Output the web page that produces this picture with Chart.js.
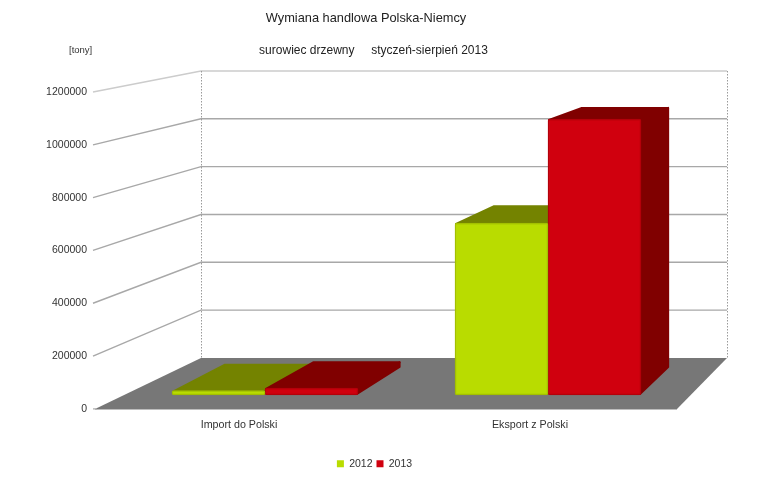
<!DOCTYPE html>
<html>
<head>
<meta charset="utf-8">
<title>Wymiana handlowa Polska-Niemcy</title>
<script src="https://cdn.jsdelivr.net/npm/chart.js@4"></script>
<style>
  html,body{margin:0;padding:0;background:#fff}
  canvas{display:block}
</style>
</head>
<body>
<canvas id="c" width="760" height="477"></canvas>
<script>
// dane
const categories = ['Import do Polski', 'Eksport z Polski'];
const seriesNames = ['2012', '2013'];
const values2012 = [17000, 669000];
const values2013 = [27000, 1074000];
const tickStep = 200000;
const axisMax = 1200000;

// kolory
const frontColors = ['#b9dc00', '#d0000e'];
const rimColors = ['#a3c000', '#b4000a'];
const sideColors = ['#748300', '#800000'];

// geometria "3D": przednia krawedz podlogi i tylna sciana
const floor = [[95,409],[201,358],[727,358],[677,409]];
const wallL = 201, wallR = 727, wallBase = 358, wallTop = 71, frontL = 93;
// tyl slupka wzgledem przodu (perspektywa)
const backX = x => 60.8 + 0.949*x;
const backY = y => 368 - 0.9457*(395 - y);

function poly(ctx, pts, fill, stroke){
  ctx.beginPath();
  pts.forEach((p,i)=> i ? ctx.lineTo(p[0],p[1]) : ctx.moveTo(p[0],p[1]));
  ctx.closePath();
  ctx.fillStyle = fill; ctx.fill();
  if (stroke){ ctx.strokeStyle = stroke; ctx.lineWidth = 2; ctx.lineJoin = 'round'; ctx.stroke(); }
}

const scene3d = {
  id:'scene3d',
  afterLayout(chart){
    // tytuly i legenda nie sa na srodku plotna
    const center = (box,cx)=>{ const d = cx-(box.left+box.right)/2; box.left+=d; box.right+=d; };
    center(chart.titleBlock, 366);
    center(chart.boxes.find(b=>b.options && b.options.text===chart.options.plugins.subtitle.text), 373.5);
    center(chart.legend, 374.5);
    chart.legend.top += 2; chart.legend.bottom += 2;
  },
  beforeDatasetsDraw(chart){
    const ctx = chart.ctx, yF = chart.scales.y, yW = chart.scales.yWall;
    ctx.save();
    // podloga
    poly(ctx, floor, '#777777');
    ctx.strokeStyle = '#bdbdbd'; ctx.lineWidth = 1;
    ctx.beginPath(); ctx.moveTo(95,409.5); ctx.lineTo(677,409.5); ctx.stroke();
    // siatka
    for (let v = tickStep; v <= axisMax; v += tickStep){
      const yf = yF.getPixelForValue(v), yw = yW.getPixelForValue(v);
      ctx.strokeStyle = v === axisMax ? '#cccccc' : '#a8a8a8';
      ctx.lineWidth = 1.4;
      ctx.beginPath(); ctx.moveTo(frontL,yf); ctx.lineTo(wallL,yw); ctx.lineTo(wallR,yw); ctx.stroke();
    }
    ctx.strokeStyle = '#a8a8a8'; ctx.lineWidth = 1.2;
    ctx.beginPath(); ctx.moveTo(frontL,yF.getPixelForValue(0)); ctx.lineTo(97,yF.getPixelForValue(0)); ctx.stroke();
    // sciany boczne, kropkowane
    ctx.strokeStyle = '#9a9a9a'; ctx.lineWidth = 1; ctx.setLineDash([1.5,1.5]);
    [wallL,wallR].forEach(x=>{ ctx.beginPath(); ctx.moveTo(x+.5,wallTop); ctx.lineTo(x+.5,wallBase); ctx.stroke(); });
    ctx.setLineDash([]);
    // gora i bok slupkow
    chart.data.datasets.forEach((ds,d)=>{
      chart.getDatasetMeta(d).data.forEach(bar=>{
        const p = bar.getProps(['x','y','base','width'], true);
        const l = p.x-p.width/2+1, r = p.x+p.width/2-1, t = p.y+1, b = p.base-1;
        poly(ctx, [[l,t],[backX(l),backY(t)],[backX(r),backY(t)],[r,t]], sideColors[d], sideColors[d]);
        poly(ctx, [[r,t],[backX(r),backY(t)],[backX(r),backY(b)],[r,b]], sideColors[d], sideColors[d]);
      });
    });
    ctx.restore();
  },
  afterDraw(chart){
    const ctx = chart.ctx;
    ctx.save();
    ctx.font = '9.5px "Liberation Sans"'; ctx.fillStyle = '#333';
    ctx.textAlign = 'left'; ctx.textBaseline = 'middle';
    ctx.fillText('[tony]', 69, 50);
    ctx.restore();
  }
};

Chart.defaults.font.family = '"Liberation Sans", Arial, sans-serif';
Chart.defaults.color = '#333';

new Chart(document.getElementById('c'), {
  type:'bar',
  plugins:[scene3d],
  data:{
    labels: categories,
    datasets: [values2012, values2013].map((vals,d)=>({
      label: seriesNames[d],
      data: vals.map((v,i)=>({x:i, y:v})),
      xAxisID:'xBars', yAxisID:'yBars',
      backgroundColor: frontColors[d],
      borderColor: rimColors[d],
      borderWidth: 1.5,
      borderRadius: 2,
      borderSkipped: false,
      barThickness: 93
    }))
  },
  options:{
    responsive:false, animation:false,
    layout:{padding:{left:0,right:83,top:0,bottom:0}},
    plugins:{
      tooltip:{enabled:false},
      title:{display:true, text:'Wymiana handlowa Polska-Niemcy', color:'#222',
        font:{size:12.8,weight:'normal',lineHeight:'16px'}, padding:{top:10,bottom:0}},
      subtitle:{display:true, text:'surowiec drzewny     styczeń-sierpień 2013', color:'#222',
        font:{size:12,weight:'normal',lineHeight:'14px'}, padding:{top:18,bottom:34}},
      legend:{position:'bottom',
        labels:{boxWidth:7,boxHeight:7,padding:4,color:'#333',font:{size:10.5,lineHeight:'11px'},
          generateLabels(chart){
            return seriesNames.map((n,i)=>({text:n, fillStyle:frontColors[i], strokeStyle:frontColors[i], lineWidth:0, datasetIndex:i, fontColor:'#333'}));
          }}}
    },
    scales:{
      x:{type:'category', offset:true, grid:{display:false,drawTicks:false}, border:{display:false},
        ticks:{padding:9.5,labelOffset:-1.5,maxRotation:0,color:'#333',font:{size:10.7}},
        afterFit(s){ s.height = 43.6; }},
      y:{type:'linear', min:0, max:axisMax, grid:{display:false,drawTicks:false}, border:{display:false},
        ticks:{stepSize:tickStep,padding:8,color:'#333',font:{size:10.5},callback:v=>String(v)},
        afterFit(s){ s.width = 95; }},
      // plaszczyzna przodu slupkow
      xBars:{type:'linear', axis:'x', display:false, offset:false, min:(95-265)/283, max:(677-265)/283},
      yBars:{type:'linear', axis:'y', display:false, min:-14/(51.4/200000), max:(395-92)/(51.4/200000)},
      // tylna sciana
      yWall:{type:'linear', axis:'y', display:false,
        min:-(409-wallBase)*axisMax/(wallBase-wallTop), max:(wallBase-92)*axisMax/(wallBase-wallTop)}
    }
  }
});
</script>
</body>
</html>
